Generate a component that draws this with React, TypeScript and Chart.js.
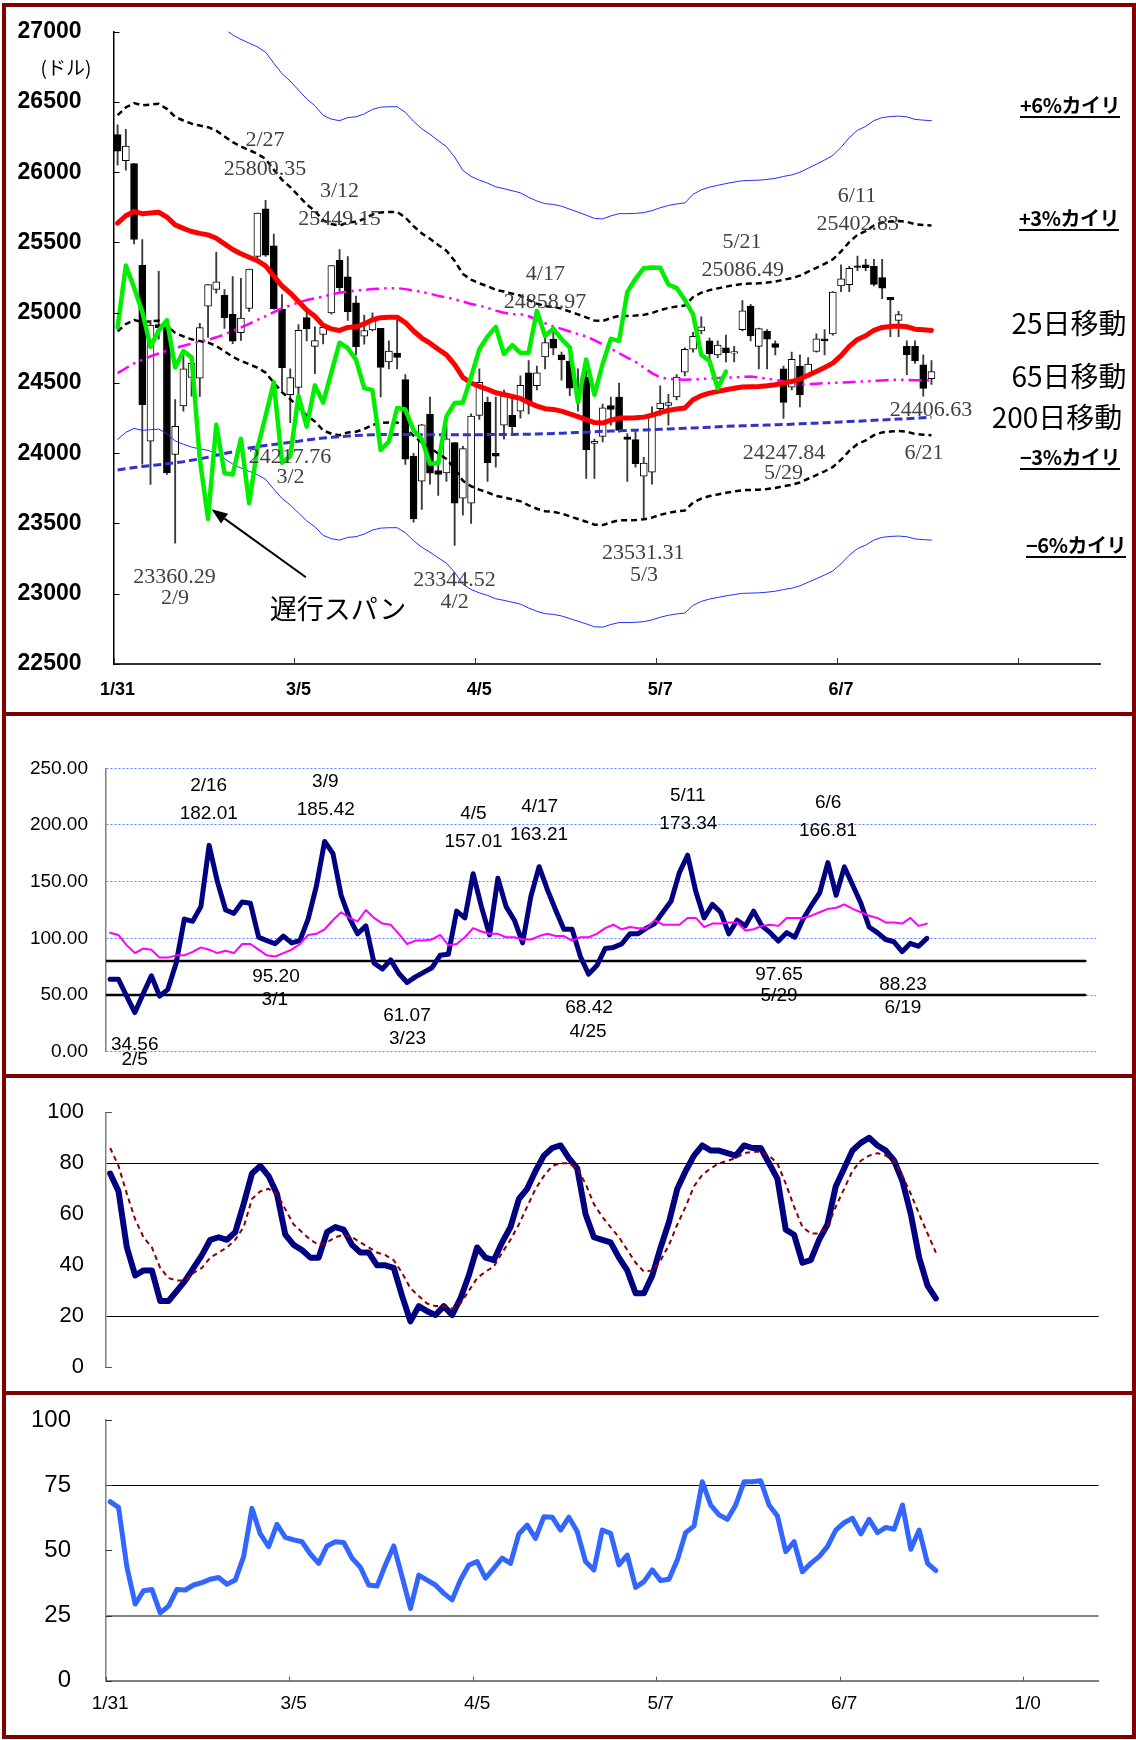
import React, { useEffect, useRef } from 'react';
import { Chart, registerables } from 'chart.js';

Chart.register(...registerables);

// ---------- categories / tick labels ----------
const TICK_IDX = [0, 22, 44, 66, 88, 110];
const TOP_TICK_LABELS = ['1/31', '3/5', '4/5', '5/7', '6/7', ''];
const BOTTOM_TICK_LABELS = ['1/31', '3/5', '4/5', '5/7', '6/7', '1/0'];

// ---------- price (1/31 .. 6/22) ----------
const open = [
  26268, 26083, 26061, 25337, 24085, 24916, 24902, 23992, 24337, 24540,
  24535, 25047, 25165, 25124, 24988, 24858, 25030, 25400, 25740, 25476,
  25024, 24417, 24469, 24965, 24760, 24845, 24999, 25372, 25255, 25070,
  24833, 24877, 24889, 24650, 24712, 24525, 23980, 23802, 24278, 23876,
  23860, 24076, 23680, 23645, 24270, 24364, 24000, 24200, 24270, 24300,
  24573, 24480, 24685, 24812, 24700, 24655, 24470, 24540, 24070, 24120,
  24340, 24400, 24117, 24097, 23836, 23865, 24317, 24341, 24400, 24577,
  24740, 24870, 24800, 24700, 24750, 24713, 24880, 25047, 24760, 24870,
  24780, 24600, 24470, 24620, 24550, 24725, 24815, 24850, 25190, 25200,
  25330, 25340, 25330, 25250, 25110, 24945, 24760, 24760, 24630, 24530,
];
const high = [
  26338, 26306, 26061, 25520, 24946, 25294, 24903, 24382, 24712, 24667,
  24924, 25200, 25432, 25165, 25258, 25245, 25310, 25709, 25800.35, 25560,
  25130, 24600, 24915, 24999, 24900, 24926, 25336, 25449.15, 25400, 25118,
  24984, 25000, 24889, 24800, 24977, 24560, 24000, 24205, 24400, 24000,
  24200, 24076, 24050, 24280, 24600, 24400, 24400, 24450, 24400, 24550,
  24660, 24620, 24858.97, 24860, 24720, 24700, 24600, 24670, 24100, 24350,
  24400, 24500, 24140, 24170, 23970, 24330, 24480, 24420, 24560, 24750,
  24860, 24970, 24820, 24800, 24840, 24760, 25086.49, 25060, 24890, 24880,
  24800, 24620, 24720, 24700, 24680, 24850, 24880, 25150, 25340, 25330,
  25402.83, 25380, 25380, 25380, 25110, 25010, 24800, 24800, 24700, 24660,
];
const low = [
  26050, 26014, 25490, 23923, 23778, 24812, 23849, 23360.29, 24300, 24406,
  24404, 24825, 25140, 24889, 24780, 24802, 25010, 25370, 25400, 25025,
  24445, 24217.76, 24345, 24800, 24567, 24778, 24990, 25150, 24946, 24700,
  24776, 24870, 24400, 24600, 24600, 23920, 23509, 23600, 23780, 23700,
  23800, 23344.52, 23560, 23500, 24240, 23800, 23900, 24100, 24140, 24250,
  24280, 24450, 24600, 24700, 24520, 24410, 24300, 23820, 23820, 24080,
  24200, 24150, 23800, 23900, 23531.31, 23780, 24270, 24200, 24380, 24550,
  24720, 24850, 24620, 24680, 24650, 24650, 24870, 24800, 24600, 24600,
  24700, 24247.84, 24450, 24330, 24540, 24720, 24700, 24840, 25150, 25150,
  25300, 25300, 25190, 25100, 24830, 24830, 24560, 24640, 24406.63, 24490,
];
const close = [
  26149.39, 26186.71, 25520.96, 24345.75, 24912.77, 24893.35, 23860.46, 24190.9, 24601.27, 24640.45,
  24893.49, 25200.37, 25219.38, 24964.75, 24797.78, 24962.48, 25309.99, 25709.27, 25410.03, 25029.2,
  24608.98, 24538.06, 24874.76, 24884.12, 24801.36, 24895.21, 25335.74, 25178.61, 25007.03, 24758.12,
  24873.66, 24946.51, 24610.91, 24727.27, 24682.31, 23957.89, 23533.2, 24202.6, 23857.71, 23848.42,
  24103.11, 23644.19, 24033.36, 24264.3, 24505.22, 23932.76, 23979.1, 24408.0, 24189.45, 24483.05,
  24360.14, 24573.04, 24786.63, 24748.07, 24664.89, 24462.94, 24448.69, 24024.13, 24083.83, 24322.34,
  24311.19, 24163.15, 24099.05, 23924.98, 23930.15, 24262.51, 24357.32, 24360.21, 24542.54, 24739.53,
  24831.17, 24899.41, 24706.41, 24768.93, 24713.98, 24715.09, 25013.29, 24834.41, 24886.81, 24811.76,
  24753.09, 24361.45, 24667.78, 24415.84, 24635.21, 24813.69, 24799.98, 25146.39, 25241.41, 25316.53,
  25322.31, 25320.73, 25201.2, 25175.31, 25090.48, 24987.47, 24700.21, 24657.8, 24461.7, 24580.89,
];
const ma25 = [
  25637, 25690, 25720, 25705, 25710, 25715, 25680, 25625, 25600, 25578,
  25565, 25554, 25530, 25490, 25450, 25420, 25395, 25370, 25334, 25260,
  25190, 25140, 25080, 25020, 24975, 24910, 24885, 24874, 24895, 24900,
  24920, 24950, 24965, 24968, 24968, 24930, 24870, 24820, 24783, 24740,
  24700, 24630, 24540, 24500, 24475, 24455, 24430, 24418, 24404, 24390,
  24360, 24335, 24317, 24312, 24300, 24280, 24260, 24240, 24218, 24215,
  24235, 24250, 24250, 24252, 24257, 24270, 24290, 24305, 24315, 24322,
  24380, 24410, 24428, 24440, 24452, 24462, 24471, 24473, 24475, 24480,
  24487, 24500, 24510, 24528, 24555, 24582, 24610, 24641, 24695, 24760,
  24810, 24836, 24875, 24895, 24902, 24905, 24900, 24883, 24878, 24874,
];
const ma65 = [
  24570, 24605, 24640, 24665, 24690, 24710, 24730, 24748, 24765, 24780,
  24795, 24807, 24825, 24845, 24870, 24895, 24920, 24949, 24975, 25005,
  25032, 25052, 25073, 25090, 25103, 25115, 25130, 25142, 25150, 25158,
  25163, 25168, 25172, 25175, 25175, 25168, 25158, 25148, 25135, 25120,
  25110, 25095, 25080, 25062, 25050, 25035, 25015, 25000, 24990, 24990,
  24975, 24950, 24925, 24902, 24885, 24866, 24848, 24831, 24805, 24775,
  24745, 24712, 24680, 24650, 24610, 24570, 24540, 24530, 24525, 24523,
  24525, 24528, 24532, 24535, 24538, 24540, 24543, 24546, 24540, 24530,
  24523, 24510, 24498, 24490, 24492, 24495, 24498, 24500, 24503, 24506,
  24509, 24511, 24515, 24518, 24521, 24523, 24522, 24520, 24519, 24518,
];
const ma200 = [
  23880, 23890, 23898, 23905, 23912, 23918, 23925, 23932, 23940, 23950,
  23960, 23972, 23985, 23998, 24010, 24025, 24038, 24047, 24055, 24062,
  24070, 24078, 24085, 24094, 24102, 24108, 24113, 24118, 24122, 24126,
  24129, 24132, 24133, 24133, 24133, 24133, 24132, 24132, 24132, 24132,
  24132, 24132, 24132, 24132, 24132, 24133, 24133, 24134, 24134, 24135,
  24135, 24137, 24139, 24141, 24143, 24145, 24148, 24150, 24153, 24156,
  24158, 24160, 24162, 24164, 24166, 24167, 24170, 24172, 24175, 24178,
  24180, 24183, 24185, 24188, 24191, 24193, 24195, 24197, 24199, 24201,
  24202, 24204, 24207, 24209, 24212, 24214, 24217, 24220, 24223, 24226,
  24228, 24231, 24234, 24237, 24240, 24243, 24246, 24250, 24253, 24257,
];

// ---------- panel 2: ratio ----------
const ratio = [
  64, 64, 49, 34.56, 51, 67, 49, 55, 78, 117,
  115, 128, 182.01, 150, 125, 122, 132, 131, 101, 98,
  95.2, 102, 96, 98, 117, 146, 185.42, 175, 138, 118,
  104, 111, 78, 73, 81, 69, 61.07, 66, 70, 74,
  85, 86, 124, 118, 157.01, 128, 103, 153, 128, 116,
  96, 137, 163.21, 143, 125, 108, 108, 84, 68.42, 76,
  91, 92, 95, 104, 104, 109, 113, 123, 133, 158,
  173.34, 141, 118, 130, 123, 104, 116, 111, 124, 111,
  105, 97.65, 105, 101, 117, 129, 140, 166.81, 138, 163,
  147, 131, 110, 105, 99, 97, 88.23, 95.6, 93, 100,
];
const ratioAvg = [
  105, 103, 94, 87, 91, 90, 83, 83, 85, 85,
  88, 92, 90, 87, 89, 87, 95, 95, 90, 85,
  84, 87, 90, 95, 103, 104, 108, 116, 123, 118,
  115, 125, 118, 113, 112, 104, 95, 98, 98, 99,
  103, 94, 95, 101, 109, 106, 104, 104, 101, 101,
  99, 99, 102, 104, 102, 102, 98, 101, 101, 104,
  109, 112, 108, 110, 109, 109, 116, 112, 112, 112,
  118, 118, 110, 113, 113, 114, 114, 107, 108, 111,
  112, 111, 118, 118, 118, 120, 123, 126, 127, 130,
  126, 123, 120, 118, 114, 114, 113, 118, 111, 113,
];
const ratioLevels = [80, 50];

// ---------- panel 3: stochastics ----------
const stochK = [
  76, 69, 47, 36, 38, 38, 26, 26, 30, 34,
  39, 44, 50, 51, 50, 53, 64, 76, 79, 75,
  68, 52, 48, 46, 43, 43, 53, 55, 54, 48,
  45, 45, 40, 40, 39, 28, 18, 24, 22, 20.5,
  24, 20.5, 27, 36, 47, 43, 42, 49, 55, 66,
  70, 77, 83, 86, 87, 82, 78, 60, 51, 50,
  49, 43, 38, 29, 29, 36, 47, 57, 70, 77,
  83, 87, 85, 85, 84, 83, 87, 86, 86, 80,
  74, 54, 52, 41, 42, 50, 56, 71, 78, 85,
  88, 90, 87, 85, 81, 73, 60, 43, 32, 27,
];
const stochD = [
  86, 79, 68, 58, 51, 47, 39, 35, 34, 34,
  37, 39, 43, 45, 47, 50, 55, 66, 69, 70,
  68, 62, 56, 53, 50, 48, 49, 51, 52, 51,
  49, 47, 45, 44, 42, 37, 31, 28, 25, 24,
  24, 23, 25, 30, 35, 37.5, 39.5, 45, 50, 56,
  63, 70, 75, 79, 80, 80, 78, 72, 64, 59,
  55, 51, 46, 41, 37.5, 38, 42, 48, 56, 63,
  71, 75.5, 78, 80, 81, 82, 84, 84.5, 84.5, 83,
  80, 72, 63, 55, 52.5, 52.5, 55, 63, 70, 77,
  81, 83, 84, 83, 81, 75, 68, 60, 52.5, 45,
];

// ---------- panel 4: RSI ----------
const rsi = [
  68.7, 66.5, 43.7, 29.4, 34.5, 35, 26, 28.6, 35, 34.8,
  36.7, 37.6, 38.9, 39.6, 37, 38.6, 47.6, 66.1, 56.3, 51.4,
  60, 55, 54, 53.3, 48.6, 45, 51.7, 53.3, 53, 47,
  43.5, 36.7, 36.3, 44.4, 51.7, 39.9, 27.7, 40.5, 38.6, 36.7,
  33.5, 31, 38.6, 44.4, 45.7, 39.3, 43.1, 47, 45, 56.3,
  59.7, 54.6, 62.9, 62.7, 57.8, 62.7, 57.2, 45.7, 42.5, 57.8,
  56.5, 44.4, 48.2, 35.8, 38, 42.5, 38.4, 38.9, 46.3, 56.8,
  59.3, 76.3, 67.4, 63.6, 61.9, 67.4, 76.3, 76.3, 76.7, 67.4,
  63.2, 49.5, 53.3, 41.8, 45, 47.6, 51.4, 57.8, 60.6, 62.3,
  56.3, 61.9, 56.8, 58.8, 58.1, 67.4, 50.4, 57.8, 45, 42.2,
];

// ---------- annotations (anchored in data space) ----------
const priceNotes = [
  { t: '2/27', i: 17.93, v: 26229 }, { t: '25800.35', i: 17.93, v: 26023 },
  { t: '3/12', i: 26.99, v: 25868 }, { t: '25449.15', i: 26.99, v: 25667 },
  { t: '4/17', i: 52.04, v: 25276 }, { t: '24858.97', i: 52.0, v: 25078 },
  { t: '5/21', i: 75.95, v: 25505 }, { t: '25086.49', i: 76.05, v: 25304 },
  { t: '6/11', i: 89.94, v: 25826 }, { t: '25402.83', i: 90.04, v: 25631 },
  { t: '24406.63', i: 98.94, v: 24303 }, { t: '6/21', i: 98.09, v: 23999 },
  { t: '24247.84', i: 81.06, v: 23999 }, { t: '5/29', i: 81.0, v: 23857 },
  { t: '23531.31', i: 63.95, v: 23288 }, { t: '5/3', i: 64.03, v: 23133 },
  { t: '23344.52', i: 40.97, v: 23098 }, { t: '4/2', i: 41.0, v: 22943 },
  { t: '23360.29', i: 6.92, v: 23117 }, { t: '2/9', i: 6.98, v: 22967 },
  { t: '24217.76', i: 20.97, v: 23975 }, { t: '3/2', i: 21.03, v: 23829 },
];
const ratioNotes = [
  { t: '2/16', i: 11.94, v: 234.4 }, { t: '182.01', i: 11.96, v: 210.3 },
  { t: '3/9', i: 26.08, v: 238.2 }, { t: '185.42', i: 26.15, v: 213.8 },
  { t: '4/5', i: 44.03, v: 209.7 }, { t: '157.01', i: 44.05, v: 185.2 },
  { t: '4/17', i: 52.06, v: 216.1 }, { t: '163.21', i: 51.99, v: 191.2 },
  { t: '5/11', i: 70.02, v: 225.6 }, { t: '173.34', i: 70.09, v: 200.9 },
  { t: '6/6', i: 87.04, v: 219.7 }, { t: '166.81', i: 87.02, v: 195.0 },
  { t: '95.20', i: 20.1, v: 66.2 }, { t: '3/1', i: 19.96, v: 45.6 },
  { t: '61.07', i: 35.98, v: 31.8 }, { t: '3/23', i: 36.05, v: 11.8 },
  { t: '68.42', i: 58.05, v: 38.8 }, { t: '4/25', i: 57.93, v: 17.6 },
  { t: '97.65', i: 81.08, v: 67.7 }, { t: '5/29', i: 81.08, v: 49.1 },
  { t: '88.23', i: 96.1, v: 58.8 }, { t: '6/19', i: 96.1, v: 38.8 },
  { t: '34.56', i: 2.98, v: 5.9 }, { t: '2/5', i: 2.98, v: -6.7 },
];
const chikouArrow = { from: { i: 22.9, v: 23117 }, to: { i: 11.43, v: 23601 } };

// ---------- styling ----------
const SANS = '"Liberation Sans", Arial, sans-serif';
const SERIF = '"Liberation Serif", "DejaVu Serif", serif';
const CJK = '"Noto Sans CJK JP", "Noto Sans CJK SC", sans-serif';
const MAROON = '#800000';

const pts = (arr: number[]) => arr.map((y, x) => ({ x, y }));

function lineDs(data: any[], color: string, width: number, dash: number[], order: number) {
  return {
    type: 'line', data, borderColor: color, borderWidth: width, borderDash: dash,
    pointRadius: 0, pointHoverRadius: 0, fill: false, tension: 0, order,
    borderJoinStyle: 'round', borderCapStyle: dash.length ? 'butt' : 'round',
  };
}

function decor(cfg: any) {
  return {
    id: 'decor',
    afterDatasetsDraw(chart: any) {
      const { ctx, chartArea } = chart;
      const x = chart.scales.x;
      const y = chart.scales.y;
      ctx.save();
      if (cfg.yTicks) {
        const vals = cfg.yTicks.values || y.ticks.map((t: any) => t.value);
        ctx.strokeStyle = cfg.yTicks.color; ctx.lineWidth = 1;
        for (const v of vals) {
          const py = Math.round(y.getPixelForValue(v)) + 0.5;
          ctx.beginPath(); ctx.moveTo(chartArea.left, py); ctx.lineTo(chartArea.left + cfg.yTicks.len, py); ctx.stroke();
        }
      }
      if (cfg.xTicks) {
        ctx.strokeStyle = cfg.xTicks.color; ctx.lineWidth = 1;
        for (const v of cfg.xTicks.values) {
          const px = Math.round(x.getPixelForValue(v)) + 0.5;
          ctx.beginPath(); ctx.moveTo(px, chartArea.bottom); ctx.lineTo(px, chartArea.bottom - cfg.xTicks.len); ctx.stroke();
        }
      }
      if (cfg.notes) {
        ctx.font = cfg.font; ctx.fillStyle = cfg.color; ctx.textAlign = 'center'; ctx.textBaseline = 'middle';
        for (const n of cfg.notes) ctx.fillText(n.t, x.getPixelForValue(n.i), y.getPixelForValue(n.v));
      }
      if (cfg.arrow) {
        const x1 = x.getPixelForValue(cfg.arrow.from.i), y1 = y.getPixelForValue(cfg.arrow.from.v);
        const x2 = x.getPixelForValue(cfg.arrow.to.i), y2 = y.getPixelForValue(cfg.arrow.to.v);
        const ang = Math.atan2(y2 - y1, x2 - x1);
        const L = 16, W = 6;
        const bx = x2 - L * Math.cos(ang), by = y2 - L * Math.sin(ang);
        ctx.strokeStyle = '#000'; ctx.fillStyle = '#000'; ctx.lineWidth = 2;
        ctx.beginPath(); ctx.moveTo(x1, y1); ctx.lineTo(bx, by); ctx.stroke();
        ctx.beginPath(); ctx.moveTo(x2, y2);
        ctx.lineTo(bx + W * Math.sin(ang), by - W * Math.cos(ang));
        ctx.lineTo(bx - W * Math.sin(ang), by + W * Math.cos(ang));
        ctx.closePath(); ctx.fill();
      }
      ctx.restore();
    },
  };
}

function xAxis(max: number, labels: string[] | null, font: any, padding: number, height: number, borderColor: string) {
  return {
    type: 'linear', min: -0.5, max, offset: false,
    display: !!labels,
    afterBuildTicks: (s: any) => { s.ticks = TICK_IDX.map((v) => ({ value: v })); },
    afterFit: (s: any) => { s.height = height; s.paddingLeft = 0; s.paddingRight = 0; },
    ticks: {
      autoSkip: false, maxRotation: 0, minRotation: 0, padding, color: '#000', font,
      callback: (_v: any, i: number) => (labels ? labels[i] : ''),
    },
    grid: { display: false, drawTicks: false },
    border: { display: true, color: borderColor, width: 2 },
  };
}

function yAxis(min: number, max: number, step: number, width: number, font: any, padding: number, fmt: (v: number) => string, grid: any, border: any) {
  return {
    type: 'linear', min, max,
    afterFit: (s: any) => { s.width = width; s.paddingTop = 0; s.paddingBottom = 0; },
    ticks: { stepSize: step, padding, color: '#000', font, callback: (v: any) => fmt(Number(v)) },
    grid,
    border,
  };
}

const baseOpts = (padding: any) => ({
  responsive: false, animation: false, devicePixelRatio: 1, events: [],
  layout: { padding },
  plugins: { legend: { display: false }, tooltip: { enabled: false } },
});

function priceConfig(): any {
  const up3 = ma25.map((v) => v * 1.03);
  const dn3 = ma25.map((v) => v * 0.97);
  const up6 = ma25.map((v) => v * 1.06);
  const dn6 = ma25.map((v) => v * 0.94);
  const chikou = close.slice(25);
  return {
    type: 'bar',
    data: {
      datasets: [
        { type: 'bar', data: high.map((h, i) => ({ x: i, y: [low[i], h] })), backgroundColor: '#3a3a3a', barThickness: 1.2, grouped: false, order: 9 },
        {
          type: 'bar', data: open.map((o, i) => ({ x: i, y: [o, close[i]] })),
          backgroundColor: open.map((o, i) => (close[i] >= o ? '#ffffff' : '#000000')),
          borderColor: '#000', borderWidth: 1, borderSkipped: false, barThickness: 7, minBarLength: 1.5, grouped: false, order: 8,
        },
        lineDs(pts(up6), '#2030ff', 1, [], 7),
        lineDs(pts(dn6), '#2030ff', 1, [], 7),
        lineDs(pts(up3), '#000', 2.5, [6, 4], 6),
        lineDs(pts(dn3), '#000', 2.5, [6, 4], 6),
        lineDs(pts(ma200), '#3333cc', 3, [8, 4], 5),
        lineDs(pts(ma65), '#ff00ff', 2.5, [13, 5, 2.5, 5, 2.5, 5], 4),
        lineDs(pts(ma25), '#ff0000', 5, [], 2),
        lineDs(pts(chikou), '#00ee00', 4.5, [], 1),
      ],
    },
    options: {
      ...baseOpts({ top: 24.7, right: 32, bottom: 0, left: 0 }),
      scales: {
        x: xAxis(119.5, TOP_TICK_LABELS, { family: SANS, size: 18, weight: 'bold' }, 15, 48, '#333'),
        y: yAxis(22500, 27000, 500, 107.5, { family: SANS, size: 23, weight: 'bold' }, 32, (v) => String(v),
          { display: false, drawTicks: false }, { display: true, color: '#000', width: 1.5 }),
      },
    },
    plugins: [decor({
      yTicks: { len: 6, color: '#000' },
      xTicks: { values: TICK_IDX.map((v) => v - 0.5), len: 6, color: '#333' },
      notes: priceNotes, font: `22px ${SERIF}`, color: '#404040',
      arrow: chikouArrow,
    })],
  };
}

function ratioConfig(): any {
  return {
    type: 'line',
    data: {
      datasets: [
        ...ratioLevels.map((lv) => lineDs([{ x: -0.5, y: lv }, { x: 118.2, y: lv }], '#000', 2.5, [], 3)),
        lineDs(pts(ratio), '#000080', 5, [], 1),
        lineDs(pts(ratioAvg), '#ff00ff', 2, [], 0),
      ],
    },
    options: {
      ...baseOpts({ top: 52.3, right: 36, bottom: 22.3, left: 0 }),
      scales: {
        x: xAxis(119.5, null, { family: SANS, size: 18 }, 0, 0, '#000'),
        y: yAxis(0, 250, 50, 100, { family: SANS, size: 19 }, 18, (v) => v.toFixed(2),
          { display: true, drawTicks: false, color: '#5d7fff', lineWidth: 1 },
          { display: true, color: '#808080', width: 1.5, dash: [2, 2] }),
      },
    },
    plugins: [decor({ notes: ratioNotes, font: `19px ${SANS}`, color: '#000' })],
  };
}

function stochConfig(): any {
  return {
    type: 'line',
    data: {
      datasets: [
        lineDs(pts(stochK), '#000080', 6, [], 1),
        lineDs(pts(stochD), '#8b0000', 2, [5, 4], 0),
      ],
    },
    options: {
      ...baseOpts({ top: 34.3, right: 33.5, bottom: 23.7, left: 0 }),
      scales: {
        x: xAxis(118.5, null, { family: SANS, size: 18 }, 0, 0, '#000'),
        y: yAxis(0, 100, 20, 100, { family: SANS, size: 22 }, 22, (v) => String(v),
          {
            display: true, drawTicks: false, lineWidth: 1,
            color: (c: any) => (c.tick && (c.tick.value === 80 || c.tick.value === 20) ? '#000' : 'rgba(0,0,0,0)'),
          },
          { display: true, color: '#808080', width: 1.5 }),
      },
    },
    plugins: [decor({ yTicks: { values: [0, 100], len: 6, color: '#555' } })],
  };
}

function rsiConfig(): any {
  return {
    type: 'line',
    data: { datasets: [lineDs(pts(rsi), '#3366ff', 5, [], 0)] },
    options: {
      ...baseOpts({ top: 25, right: 33.5, bottom: 0, left: 0 }),
      scales: {
        x: xAxis(118.5, BOTTOM_TICK_LABELS, { family: SANS, size: 19 }, 12, 54.3, '#808080'),
        y: yAxis(0, 100, 25, 100, { family: SANS, size: 24 }, 35, (v) => String(v),
          {
            display: true, drawTicks: false,
            color: (c: any) => (c.tick && c.tick.value === 75 ? '#000' : c.tick && c.tick.value === 25 ? '#808080' : 'rgba(0,0,0,0)'),
            lineWidth: (c: any) => (c.tick && c.tick.value === 25 ? 2 : 1),
          },
          { display: true, color: '#808080', width: 1.5 }),
      },
    },
    plugins: [decor({
      yTicks: { len: 6, color: '#333' },
      xTicks: { values: TICK_IDX.map((v) => v - 0.5), len: 4, color: '#555' },
    })],
  };
}

const panels = [
  { top: 3, height: 713 },
  { top: 712, height: 366 },
  { top: 1074, height: 321 },
  { top: 1391, height: 348 },
];

const sideLabels = [
  { t: '+6%カイリ', x: 1070, y: 105, size: 20, bold: true, u: true },
  { t: '+3%カイリ', x: 1069, y: 218, size: 20, bold: true, u: true },
  { t: '25日移動', x: 1069, y: 322, size: 28, bold: false, u: false },
  { t: '65日移動', x: 1069, y: 375, size: 28, bold: false, u: false },
  { t: '200日移動', x: 1057, y: 416, size: 28, bold: false, u: false },
  { t: '−3%カイリ', x: 1070, y: 457, size: 20, bold: true, u: true },
  { t: '−6%カイリ', x: 1076, y: 545, size: 20, bold: true, u: true },
  { t: '(ドル)', x: 66, y: 66, size: 19, bold: false, u: false },
  { t: '遅行スパン', x: 338, y: 607, size: 27, bold: false, u: false },
];

export default function App() {
  const r1 = useRef<HTMLCanvasElement>(null);
  const r2 = useRef<HTMLCanvasElement>(null);
  const r3 = useRef<HTMLCanvasElement>(null);
  const r4 = useRef<HTMLCanvasElement>(null);

  useEffect(() => {
    document.body.style.margin = '0';
    document.body.style.background = '#fff';
    const charts = [
      new Chart(r1.current as any, priceConfig()),
      new Chart(r2.current as any, ratioConfig()),
      new Chart(r3.current as any, stochConfig()),
      new Chart(r4.current as any, rsiConfig()),
    ];
    return () => charts.forEach((c) => c.destroy());
  }, []);

  const cv = (top: number) => ({ position: 'absolute' as const, left: 6, top, display: 'block' });

  return (
    <div style={{ position: 'absolute', left: 0, top: 0, width: 1136, height: 1740, background: '#fff', overflow: 'hidden' }}>
      {panels.map((p, i) => (
        <div key={i} style={{ position: 'absolute', left: 2, top: p.top, width: 1134, height: p.height, border: `4px solid ${MAROON}`, boxSizing: 'border-box' }} />
      ))}
      <canvas ref={r1} width={1126} height={705} style={cv(7)} />
      <canvas ref={r2} width={1126} height={358} style={cv(716)} />
      <canvas ref={r3} width={1126} height={313} style={cv(1078)} />
      <canvas ref={r4} width={1126} height={340} style={cv(1395)} />
      {sideLabels.map((l, i) => (
        <div key={i} style={{
          position: 'absolute', left: l.x, top: l.y, transform: 'translate(-50%, -50%)',
          fontFamily: CJK, fontSize: l.size, fontWeight: l.bold ? 'bold' : 'normal', lineHeight: 1,
          whiteSpace: 'nowrap', color: '#000',
          textDecoration: l.u ? 'underline' : 'none', textDecorationThickness: '2px', textUnderlineOffset: '3px',
          letterSpacing: l.bold ? '-0.5px' : '0',
        }}>{l.t}</div>
      ))}
    </div>
  );
}
